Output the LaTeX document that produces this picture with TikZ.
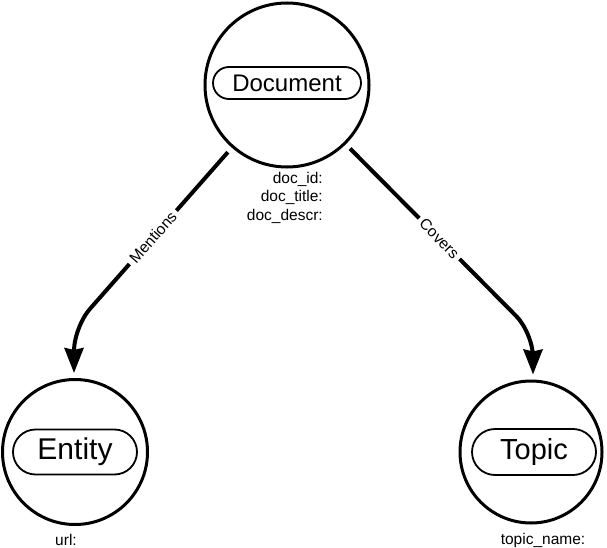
\documentclass[tikz,border=0pt]{standalone}
\usepackage{fontspec}
\setmainfont{Liberation Sans}
\usetikzlibrary{arrows.meta,shapes.misc}

\begin{document}
\begin{tikzpicture}[x=1pt,y=1pt,
                        entity/.style={circle,draw,line width=3pt,inner sep=0pt},
                        pill/.style={rounded rectangle,draw,line width=1.8pt,inner sep=0pt},
                        attr/.style={font=\fontsize{15.5}{18.5}\selectfont,inner sep=0pt},
                        rel/.style={line width=4pt,rounded corners=24pt,-{Stealth[length=25pt,width=19pt,inset=2pt]},shorten <=6pt,shorten >=5pt},
                        rellabel/.style={sharp corners,fill=white,font=\fontsize{15.5}{15.5}\selectfont,sloped,inner xsep=4pt,inner ysep=4pt}]
                        \useasboundingbox (0,0) rectangle (607,-548);

                        \node[entity,minimum size=164pt] (doc) at (287,-85) {};
                        \node[pill,minimum width=148pt,minimum height=32pt,font=\fontsize{24}{24}\selectfont] (docname) at (287,-83) {Document};
                        \node[attr,align=right,anchor=north east] (docattr) at (323,-172) {doc\_id:\\doc\_title:\\doc\_descr:};

                        \node[entity,minimum size=145pt] (ent) at (75,-452) {};
                        \node[pill,minimum width=124pt,minimum height=45pt,font=\fontsize{30}{30}\selectfont] (entname) at (75,-452) {Entity};
                        \node[attr] (entattr) at (66,-540) {url:};

                        \node[entity,minimum size=142pt] (topic) at (531,-452) {};
                        \node[pill,minimum width=124pt,minimum height=46pt,font=\fontsize{29}{29}\selectfont] (topicname) at (534,-452) {Topic};
                        \node[attr] (topicattr) at (543,-540) {topic\_name:};

                        \coordinate (mbend) at (74,-327);
                        \coordinate (cbend) at (533,-333);
                        \draw[rel] (doc) -- node[rellabel] {Mentions} (mbend) -- (mbend |- ent.north);
                        \draw[rel] (doc) -- node[rellabel] {Covers} (cbend) -- (cbend |- topic.north);
                    \end{tikzpicture}
\end{document}
